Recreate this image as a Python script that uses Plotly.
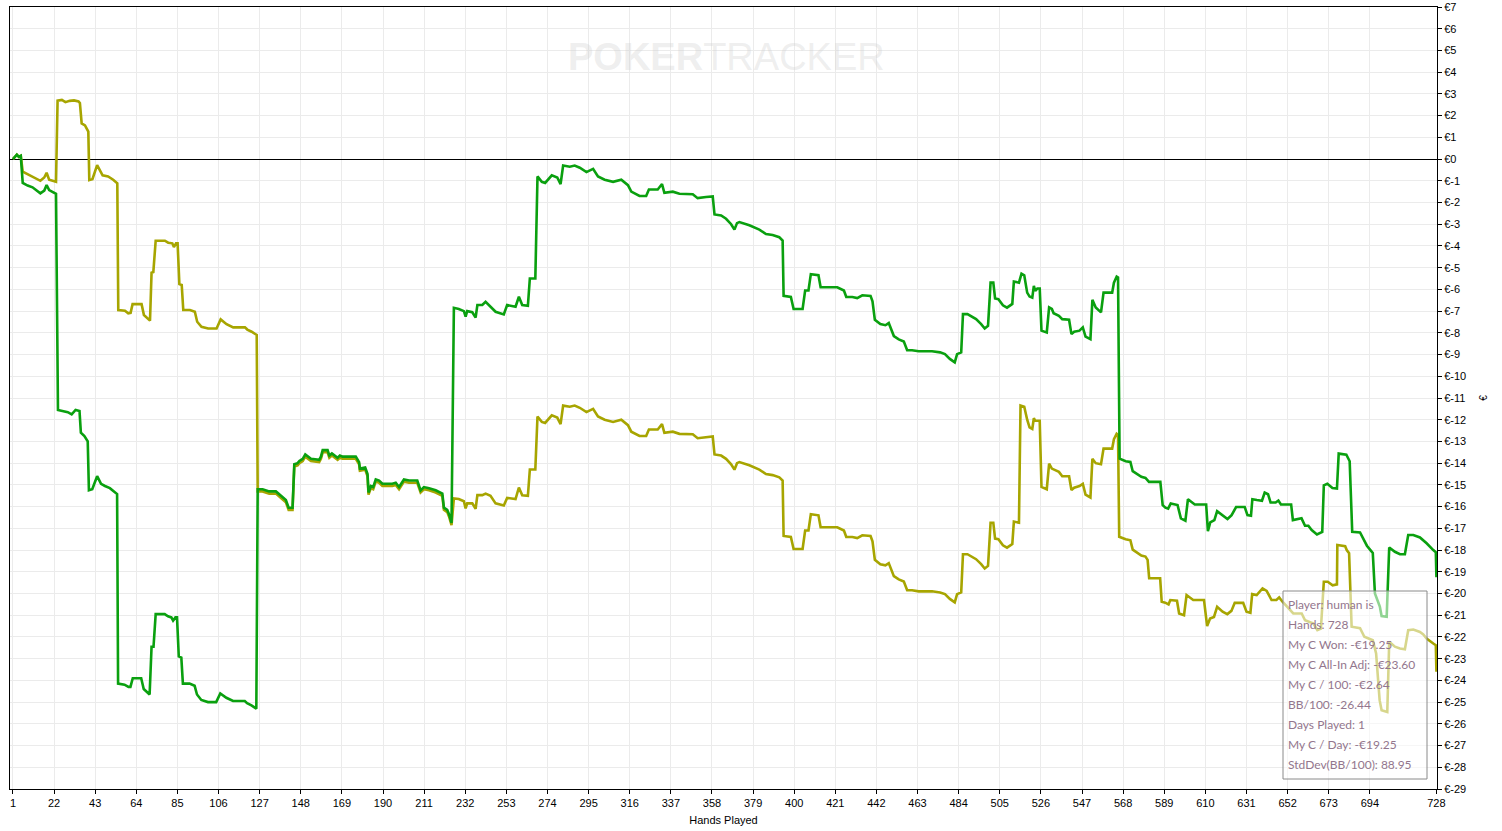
import plotly.graph_objects as go

# ---------------- data ----------------
won_hands = [1, 2, 3, 4, 5, 6, 8.5, 11, 13, 15, 17, 18.2, 19.5, 21, 23, 24, 26, 29, 31, 33, 35, 35.7, 37.5, 39.2, 39.8, 41.5, 44, 46, 48, 50.5, 54.2, 54.7, 58, 60, 61, 62.2, 66.5, 67.8, 70.8, 71.8, 72.8, 73.9, 78.5, 80.2, 81.9, 82.8, 84, 84.8, 85.7, 87, 87.8, 91.2, 93.8, 95, 97.2, 100.6, 104.8, 106.9, 110, 113.4, 119.4, 120.6, 122.8, 125.3,
             126, 128.5, 131.9, 135.3, 137.9, 140.4, 141.8, 143.8, 144.7, 146.4, 147.3, 149, 150.3, 151.5, 153.2, 157.4, 158.3, 159.2, 161.7, 162.6, 163.9, 166.8, 168, 169.3, 176.1, 177.8, 178.2, 180.9, 182.1, 182.6, 183.8, 185, 186.3, 188, 189.7, 194.8, 196.5, 198.2, 200.7, 203.3, 207.5, 209.2, 210.9, 213.5, 216.9, 220.3, 221.1, 222.8, 223.7, 225,
             226.2, 228.7, 231.3, 232.2, 233, 235.6, 237.3, 238.2, 240.7, 242.4, 244.9, 247.5, 251.7, 253.4, 257.7, 259.4, 261.1, 264, 265, 267.8,
             268.9, 271.1, 272.8, 276.2, 279, 280.7, 282, 285.4, 287.9, 290.5, 293.9, 297.3, 299.8, 303.2, 307.5, 311.7, 315.1, 316.8, 321, 324.4, 325.8, 330.3, 332.5, 333.7, 338, 341.4, 348.2, 350.7, 355, 358.4, 359.3, 362.7, 365.2, 367.8, 369.5, 370.8, 372, 377.1, 382.2, 385.6, 389, 392.4, 394.1, 394.6, 398.3, 399.7, 404.3, 405.6, 407.3, 408.5, 412.4, 413.5, 422, 425.4, 426.6, 429.7, 432.2, 434.8, 439, 440, 441.2, 444, 446.6, 448.3, 450.9, 453.4, 456, 457.7, 460.2, 463.6, 470.4, 474.5, 477, 479.5, 482, 483.2, 485.3, 486.2, 488.5, 492.9, 495.5, 497.3, 499, 500.3, 501.7, 502.6, 504.3, 506.6, 508.7, 511.4, 512.2, 514.8, 516.1, 517.5, 519, 520.2, 521.6, 522.4, 523.1, 524.2, 525.4, 526.3, 529, 530.2, 531.6, 532.5, 535.2, 536.9, 540.4, 541.6, 543, 545.7, 547.4, 548.8, 551.3, 552.3, 554, 556.7, 558, 562.4, 563.3, 564.7, 565.4,
             566.2, 569.3, 571.7, 572.9, 575.5, 577.3, 579.4, 581.2, 587, 588.2, 589.6, 591, 592.3, 595.8, 597.5, 599.8, 601.1, 604.6, 610.4, 611.3, 612.5, 614.6, 616, 618.6, 621.3, 623.4, 625.7, 630.1, 631.5, 633.3, 634, 636.3, 638.9, 640.3, 642, 643.3, 645.9, 647.3, 648.6, 653.8, 654.7, 659.1, 660.9, 662.6, 664.3, 667, 669.7, 670.5, 672.3, 674.9, 677.2, 678.1, 682, 683.7, 685, 689, 690.7, 692.5, 694.3, 695.5, 696.6, 699.1, 700, 702.6, 703.9, 706.8, 709.4, 711.9, 713.6, 716.2, 719.6, 721.3, 723, 726.4, 727.7, 728]
won_values = [0.0, 0.1, 0.2, 0.1, 0.15, -1.1, -1.22, -1.3, -1.45, -1.58, -1.45, -1.2, -1.43, -1.5, -1.6, -11.55, -11.6, -11.65, -11.75, -11.55, -11.6, -12.6, -12.75, -13.0, -15.25, -15.2, -14.6, -14.95, -15.05, -15.15, -15.42, -24.15, -24.2, -24.3, -24.3, -23.9, -23.9, -24.4, -24.65, -22.45, -22.45, -20.95, -20.95, -21.05, -21.1, -21.25, -21.1, -21.1, -22.9, -22.95, -24.15, -24.15, -24.25, -24.65, -24.9, -25.0, -25.0, -24.6, -24.8, -24.95, -24.95, -25.05, -25.15, -25.3,
              -15.2, -15.2, -15.3, -15.3, -15.5, -15.7, -16.05, -16.05, -14.05, -14.0, -13.9, -13.8, -13.6, -13.7, -13.8, -13.85, -13.7, -13.4, -13.4, -13.65, -13.55, -13.75, -13.65, -13.7, -13.7, -13.95, -14.25, -14.2, -14.5, -15.35, -15.05, -15.1, -14.75, -14.8, -14.95, -14.95, -14.9, -15.1, -14.75, -14.8, -14.8, -15.25, -15.1, -15.15, -15.25, -15.4, -16.05, -16.15, -16.35, -16.75,
              -6.85, -6.9, -7.0, -7.25, -7.0, -7.05, -7.3, -6.72, -6.72, -6.57, -6.8, -7.03, -7.15, -6.72, -6.8, -6.34, -6.72, -6.75, -5.5, -5.5,
              -0.8, -1.05, -1.1, -0.75, -0.85, -1.15, -0.3, -0.35, -0.3, -0.4, -0.6, -0.45, -0.8, -0.95, -1.05, -0.95, -1.2, -1.5, -1.7, -1.7, -1.4, -1.4, -1.15, -1.55, -1.5, -1.6, -1.62, -1.8, -1.75, -1.72, -2.55, -2.6, -2.75, -3.0, -3.25, -2.95, -2.9, -3.05, -3.25, -3.45, -3.5, -3.6, -3.75, -6.3, -6.35, -6.9, -6.9, -6.05, -6.05, -5.3, -5.35, -5.9, -5.9, -6.05, -6.35, -6.35, -6.4, -6.27, -6.3, -6.55, -7.4, -7.6, -7.65, -7.55, -8.15, -8.3, -8.4, -8.8, -8.8, -8.85, -8.85, -8.9, -8.98, -9.2, -9.36, -8.98, -8.9, -7.14, -7.14, -7.37, -7.6, -7.8, -7.68, -5.69, -5.69, -6.42, -6.45, -6.73, -6.84, -6.67, -5.64, -5.69, -5.28, -5.35, -6.15, -6.33, -6.38, -5.84, -6.07, -5.96, -5.96, -7.9, -7.98, -6.83, -6.9, -7.1, -7.22, -7.37, -7.4, -8.06, -7.95, -7.9, -7.75, -8.17, -8.29, -6.48, -6.83, -7.06, -6.15, -6.15, -5.69, -5.41, -5.45,
              -13.79, -13.91, -13.94, -14.37, -14.52, -14.63, -14.68, -14.86, -14.86, -15.93, -16.05, -16.09, -15.86, -15.93, -16.54, -16.65, -15.66, -15.9, -15.9, -17.13, -16.73, -16.62, -16.21, -16.39, -16.57, -16.39, -16.02, -16.02, -16.39, -16.42, -15.66, -15.7, -15.73, -15.35, -15.43, -15.81, -15.81, -15.72, -15.9, -15.9, -16.62, -16.54, -16.88, -16.88, -17.08, -17.28, -17.16, -15.02, -14.95, -15.14, -15.17, -13.56, -13.61, -13.91, -17.16, -17.19, -17.46, -17.8, -18.0, -18.13, -20.0, -20.6, -21.04, -21.07, -17.88, -18.08, -18.19, -18.19, -17.31, -17.31, -17.42, -17.54, -17.69, -18.0, -18.1, -19.25]

adj_hands = [1, 2, 3, 4, 5, 6, 8.5, 11, 13, 15, 17, 18.2, 19.5, 21, 23, 23.8, 26, 27.8, 30, 32.2, 34.5, 35.2, 36.1, 37.8, 39.5, 40, 41.6, 44, 45.4, 46.8, 49.6, 52.2, 54.3, 54.8, 58.2, 59.9, 61.1, 62.1, 66.7, 67.9, 71, 71.8, 72.7, 73.9, 78.6, 80.3, 82.4, 83.2, 84.3, 85.1, 86, 87.2, 88, 91.4, 93.9, 95.1, 97.3, 100.7, 105, 107.1, 110.1, 113.5, 119.5, 120.7, 122.9, 125.5,
             126, 128.5, 131.9, 135.3, 137.9, 140.4, 141.8, 143.8, 144.7, 146.4, 147.3, 149, 150.3, 151.5, 153.2, 157.4, 158.3, 159.2, 161.7, 162.6, 163.9, 166.8, 168, 169.3, 176.1, 177.8, 178.2, 180.9, 182.1, 182.6, 183.8, 185, 186.3, 188, 189.7, 194.8, 196.5, 198.2, 200.7, 203.3, 207.5, 209.2, 210.9, 213.5, 216.9, 220.3, 221.1, 222.8, 223.7, 225,
             226.2, 228.7, 231.3, 232.2, 233, 235.6, 237.3, 238.2, 240.7, 242.4, 244.9, 247.5, 251.7, 253.4, 257.7, 259.4, 261.1, 264, 265, 267.8,
             268.9, 271.1, 272.8, 276.2, 279, 280.7, 282, 285.4, 287.9, 290.5, 293.9, 297.3, 299.8, 303.2, 307.5, 311.7, 315.1, 316.8, 321, 324.4, 325.8, 330.3, 332.5, 333.7, 338, 341.4, 348.2, 350.7, 355, 358.4, 359.3, 362.7, 365.2, 367.8, 369.5, 370.8, 372, 377.1, 382.2, 385.6, 389, 392.4, 394.1, 394.6, 398.3, 399.7, 404.3, 405.6, 407.3, 408.5, 412.4, 413.5, 422, 425.4, 426.6, 429.7, 432.2, 434.8, 439, 440, 441.2, 444, 446.6, 448.3, 450.9, 453.4, 456, 457.7, 460.2, 463.6, 470.4, 474.5, 477, 479.5, 482, 483.2, 485.3, 486.2, 488.5, 492.9, 495.5, 497.3, 499, 500.3, 501.7, 502.6, 504.3, 506.6, 508.7, 511.4, 512.2, 514.8,
             515.6, 517.5, 519, 520.2, 521.6, 522.4, 523.1, 524.2, 525.4, 526.3, 529, 530.2, 531.6, 535.2, 536.9, 540.4, 541.6, 543, 545.7, 547.4, 548.8, 551.3, 552.3, 554, 556.7, 558, 562.4, 563.3, 564.7, 565.4,
             566, 569.3, 571.7, 572.9, 575.5, 577.3, 579.4, 580.5, 581.3, 586.9, 587.7, 589.5, 591.2, 592.1, 595.5, 596.6, 599.1, 600.4, 603.8, 609.3, 610.9, 612.4, 614.4, 616, 618.8, 621.2, 623.3, 625, 629.3, 631, 633, 633.9, 636.2, 639.2, 641.3, 643.8, 646.3, 647.7, 649.4, 654.9, 659.2, 660.9, 665.2, 667.2, 669, 670.5, 672.5, 675, 677.2, 677.4, 681.4, 682.2, 683.4, 684.7, 689, 691.2, 695.5, 697.2, 699, 700, 702.9, 703.9, 706.8, 709.4, 711.9, 713.6, 716.2, 719.6, 721.3, 723, 726.4, 727.7, 728]
adj_values = [0.0, 0.1, 0.2, 0.1, 0.15, -0.58, -0.7, -0.8, -0.9, -1.0, -0.85, -0.63, -0.95, -1.0, -1.05, 2.69, 2.72, 2.62, 2.68, 2.7, 2.65, 2.58, 1.64, 1.55, 1.26, -0.97, -0.93, -0.28, -0.52, -0.75, -0.8, -0.95, -1.12, -6.95, -6.98, -7.1, -7.08, -6.68, -6.68, -7.18, -7.44, -5.23, -5.2, -3.76, -3.76, -3.85, -3.88, -4.05, -3.88, -3.88, -5.76, -5.8, -6.95, -6.95, -7.03, -7.49, -7.72, -7.8, -7.8, -7.38, -7.6, -7.75, -7.75, -7.85, -7.95, -8.1,
              -15.3, -15.3, -15.4, -15.4, -15.6, -15.8, -16.15, -16.15, -14.15, -14.1, -14.0, -13.9, -13.7, -13.8, -13.9, -13.95, -13.8, -13.5, -13.5, -13.75, -13.65, -13.85, -13.75, -13.8, -13.8, -14.05, -14.35, -14.3, -14.6, -15.45, -15.15, -15.2, -14.85, -14.9, -15.05, -15.05, -15.0, -15.2, -14.85, -14.9, -14.9, -15.35, -15.2, -15.25, -15.35, -15.5, -16.15, -16.25, -16.45, -16.85,
              -15.62, -15.65, -15.75, -16.08, -15.85, -15.85, -16.1, -15.47, -15.47, -15.4, -15.5, -15.85, -15.95, -15.6, -15.65, -15.12, -15.48, -15.5, -14.29, -14.29,
              -11.85, -12.1, -12.15, -11.8, -11.9, -12.2, -11.35, -11.4, -11.35, -11.45, -11.65, -11.5, -11.85, -12.0, -12.1, -12.0, -12.25, -12.55, -12.75, -12.75, -12.45, -12.45, -12.2, -12.6, -12.55, -12.65, -12.67, -12.85, -12.8, -12.77, -13.6, -13.65, -13.8, -14.05, -14.3, -14.0, -13.95, -14.1, -14.3, -14.5, -14.55, -14.65, -14.8, -17.35, -17.4, -17.95, -17.95, -17.1, -17.1, -16.35, -16.4, -16.95, -16.95, -17.1, -17.4, -17.4, -17.45, -17.32, -17.35, -17.6, -18.45, -18.65, -18.7, -18.6, -19.2, -19.35, -19.45, -19.85, -19.85, -19.9, -19.9, -19.95, -20.03, -20.25, -20.41, -20.03, -19.95, -18.19, -18.19, -18.42, -18.65, -18.85, -18.73, -16.74, -16.74, -17.47, -17.5, -17.78, -17.89, -17.72, -16.69, -16.74,
              -11.35, -11.4, -12.0, -12.35, -12.42, -11.93, -12.05, -12.05, -12.05, -15.09, -15.2, -14.02, -14.25, -14.4, -14.6, -14.6, -15.24, -15.13, -15.05, -14.95, -15.45, -15.58, -13.8, -14.0, -14.05, -13.33, -13.33, -12.9, -12.65, -12.7,
              -17.39, -17.5, -17.55, -17.98, -18.15, -18.25, -18.3, -18.45, -19.3, -19.3, -20.38, -20.42, -20.5, -20.3, -20.33, -20.92, -21.0, -20.07, -20.3, -20.3, -21.5, -21.15, -21.08, -20.61, -20.84, -20.95, -20.8, -20.43, -20.43, -20.84, -20.89, -20.03, -20.07, -19.77, -19.88, -20.3, -20.3, -20.18, -20.38, -20.92, -20.92, -21.23, -21.38, -21.69, -21.62, -19.46, -19.46, -19.62, -19.58, -17.77, -17.82, -18.0, -18.15, -21.53, -21.6, -21.99, -22.15, -22.76, -24.91, -25.37, -25.45, -22.22, -22.45, -22.53, -22.57, -21.69, -21.66, -21.77, -21.88, -22.07, -22.3, -22.38, -23.6]

x_tick_values = [1, 22, 43, 64, 85, 106, 127, 148, 169, 190, 211, 232, 253, 274, 295, 316, 337, 358, 379, 400,
                 421, 442, 463, 484, 505, 526, 547, 568, 589, 610, 631, 652, 673, 694, 728]
y_tick_values = list(range(7, -30, -1))
y_tick_labels = ["€" + str(v) for v in y_tick_values]

info_lines = ["Player: human is", "Hands: 728", "My C Won: -€19.25", "My C All-In Adj: -€23.60",
              "My C / 100: -€2.64", "BB/100: -26.44", "Days Played: 1", "My C / Day: -€19.25",
              "StdDev(BB/100): 88.95"]

# ---------------- figure ----------------
W, H = 1502, 831
L, R, T, B = 10, 65, 7, 42
pw, ph = W - L - R, H - T - B

def px2paper_x(px):
    return (px - L) / pw

def py2paper_y(py):
    return (H - B - py) / ph

fig = go.Figure()
fig.add_trace(go.Scatter(x=adj_hands, y=adj_values, mode="lines", name="My C All-In Adj",
                         line=dict(color="#a7a500", width=2.6), hoverinfo="skip"))
fig.add_trace(go.Scatter(x=won_hands, y=won_values, mode="lines", name="My C Won",
                         line=dict(color="#0aa00f", width=2.6), hoverinfo="skip"))

axis_font = dict(family="Liberation Sans, Arial, sans-serif", size=11, color="#000000")

fig.update_layout(
    width=W, height=H,
    margin=dict(l=L, r=R, t=T, b=B, autoexpand=False),
    paper_bgcolor="white", plot_bgcolor="white",
    showlegend=False,
    font=axis_font,
    xaxis=dict(range=[-0.5, 728.3], tickmode="array", tickvals=x_tick_values,
               ticktext=[str(v) for v in x_tick_values], automargin=False,
               showgrid=True, gridcolor="#ebebeb", gridwidth=1, zeroline=False,
               showline=True, linecolor="#000000", linewidth=1, mirror=True,
               ticks="outside", ticklen=4, tickcolor="#000000",
               tickfont=axis_font,
               title=dict(text="Hands Played", font=axis_font, standoff=8)),
    yaxis=dict(range=[-29, 7], side="right", tickmode="array", tickvals=y_tick_values,
               ticktext=y_tick_labels, automargin=False,
               showgrid=True, gridcolor="#ebebeb", gridwidth=1,
               zeroline=True, zerolinecolor="#000000", zerolinewidth=1,
               showline=True, linecolor="#000000", linewidth=1, mirror=True,
               ticks="outside", ticklen=4, tickcolor="#000000",
               tickfont=axis_font,
               title=dict(text="€", font=dict(family="Liberation Sans, Arial, sans-serif", size=10, color="#000"), standoff=14)),
)

# watermark
fig.add_annotation(xref="paper", yref="paper", x=px2paper_x(726), y=py2paper_y(57),
                   text="<b>POKER</b>TRACKER", showarrow=False, xanchor="center", yanchor="middle",
                   font=dict(family="Liberation Sans Narrow, Liberation Sans, Arial, sans-serif", size=38,
                             color="rgba(200,200,200,0.3)"))

# info box
fig.add_shape(type="rect", xref="paper", yref="paper",
              x0=px2paper_x(1283), x1=px2paper_x(1427), y0=py2paper_y(779), y1=py2paper_y(591),
              line=dict(color="#8a8a8a", width=1), fillcolor="rgba(255,255,255,0.55)", layer="above")
for i, line in enumerate(info_lines):
    fig.add_annotation(xref="paper", yref="paper", x=px2paper_x(1286), y=py2paper_y(604 + 20 * i),
                       text=line, showarrow=False, xanchor="left", yanchor="middle",
                       font=dict(family="Lato, Open Sans, sans-serif", size=12, color="#93768d"))

fig.write_html("out.html", config={"displayModeBar": False},
               post_script="document.body.style.margin='0px';")
